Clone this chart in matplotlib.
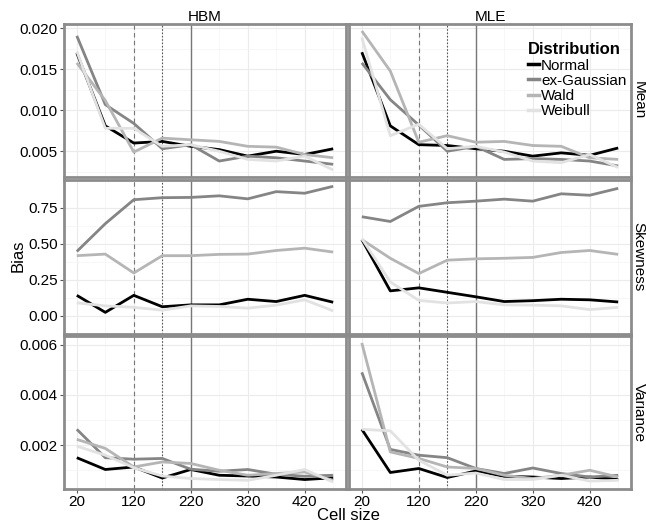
import matplotlib
matplotlib.use('Agg')
import matplotlib.pyplot as plt
from matplotlib.lines import Line2D

plt.rcParams['font.family'] = ['Liberation Sans', 'DejaVu Sans']

############## data
cell_size = [20, 70, 120, 170, 220, 270, 320, 370, 420, 470]
dists = ['Normal', 'ex-Gaussian', 'Wald', 'Weibull']
colors = ['#000000', '#858585', '#b5b5b5', '#e2e2e2']
methods = ['HBM', 'MLE']
stats = ['Mean', 'Skewness', 'Variance']

# Mean
hbm_mean = {
    'Normal':      [0.0170, 0.0081, 0.0060, 0.0062, 0.0056, 0.0052, 0.0044, 0.0050, 0.0046, 0.0053],
    'ex-Gaussian': [0.0191, 0.0107, 0.0084, 0.0053, 0.0058, 0.0038, 0.0044, 0.0042, 0.0038, 0.0034],
    'Wald':        [0.0158, 0.0112, 0.0049, 0.0066, 0.0064, 0.0062, 0.0056, 0.0055, 0.0046, 0.0042],
    'Weibull':     [0.0172, 0.0078, 0.0078, 0.0056, 0.0058, 0.0050, 0.0040, 0.0038, 0.0044, 0.0027],
}
mle_mean = {
    'Normal':      [0.0171, 0.0081, 0.0058, 0.0057, 0.0053, 0.0050, 0.0044, 0.0048, 0.0045, 0.0054],
    'ex-Gaussian': [0.0158, 0.0113, 0.0082, 0.0050, 0.0056, 0.0040, 0.0041, 0.0040, 0.0038, 0.0032],
    'Wald':        [0.0197, 0.0148, 0.0061, 0.0069, 0.0061, 0.0062, 0.0057, 0.0056, 0.0042, 0.0040],
    'Weibull':     [0.0189, 0.0069, 0.0083, 0.0053, 0.0056, 0.0049, 0.0038, 0.0036, 0.0046, 0.0030],
}
# Skewness
hbm_skew = {
    'Normal':      [0.143, 0.025, 0.143, 0.064, 0.077, 0.077, 0.116, 0.100, 0.143, 0.095],
    'ex-Gaussian': [0.447, 0.640, 0.806, 0.820, 0.822, 0.833, 0.812, 0.862, 0.851, 0.899],
    'Wald':        [0.418, 0.429, 0.298, 0.418, 0.418, 0.427, 0.429, 0.454, 0.470, 0.443],
    'Weibull':     [0.091, 0.070, 0.060, 0.040, 0.070, 0.066, 0.054, 0.075, 0.112, 0.035],
}
mle_skew = {
    'Normal':      [0.530, 0.174, 0.195, 0.164, 0.133, 0.100, 0.106, 0.116, 0.112, 0.097],
    'ex-Gaussian': [0.688, 0.655, 0.760, 0.785, 0.796, 0.810, 0.796, 0.847, 0.837, 0.885],
    'Wald':        [0.530, 0.400, 0.294, 0.387, 0.396, 0.400, 0.406, 0.440, 0.454, 0.427],
    'Weibull':     [0.537, 0.236, 0.108, 0.090, 0.100, 0.077, 0.075, 0.070, 0.044, 0.060],
}
# Variance
hbm_var = {
    'Normal':      [0.00150, 0.00103, 0.00113, 0.00069, 0.00103, 0.00080, 0.00077, 0.00073, 0.00063, 0.00070],
    'ex-Gaussian': [0.00263, 0.00150, 0.00144, 0.00147, 0.00104, 0.00096, 0.00103, 0.00084, 0.00076, 0.00080],
    'Wald':        [0.00223, 0.00187, 0.00113, 0.00133, 0.00127, 0.00100, 0.00080, 0.00087, 0.00093, 0.00060],
    'Weibull':     [0.00196, 0.00160, 0.00110, 0.00077, 0.00067, 0.00063, 0.00060, 0.00080, 0.00103, 0.00053],
}
mle_var = {
    'Normal':      [0.00263, 0.00091, 0.00107, 0.00071, 0.00097, 0.00076, 0.00073, 0.00067, 0.00073, 0.00063],
    'ex-Gaussian': [0.00490, 0.00183, 0.00160, 0.00150, 0.00107, 0.00087, 0.00109, 0.00087, 0.00073, 0.00080],
    'Wald':        [0.00607, 0.00173, 0.00147, 0.00113, 0.00107, 0.00080, 0.00067, 0.00080, 0.00100, 0.00073],
    'Weibull':     [0.00263, 0.00257, 0.00140, 0.00080, 0.00089, 0.00063, 0.00063, 0.00080, 0.00057, 0.00060],
}
panels = [[hbm_mean, mle_mean], [hbm_skew, mle_skew], [hbm_var, mle_var]]

xticks = [20, 120, 220, 320, 420]
yticks = [[0.005, 0.010, 0.015, 0.020], [0.00, 0.25, 0.50, 0.75], [0.002, 0.004, 0.006]]
yfmt = ['%.3f', '%.2f', '%.3f']
######################

W, H = 646., 528.
fig = plt.figure(figsize=(W / 100, H / 100), dpi=100)
col_left = [64, 349]
col_w = 282
row_top = [24, 180, 336]
row_h = [153, 154, 153]

border = '#8c8c8c'
for r in range(3):
    # shared y range per row, with 5% padding
    allv = [v for p in panels[r] for d in dists for v in p[d]]
    lo, hi = min(allv), max(allv)
    pad = 0.05 * (hi - lo)
    for c in range(2):
        ax = fig.add_axes([col_left[c] / W, 1 - (row_top[r] + row_h[r]) / H, col_w / W, row_h[r] / H])
        data = panels[r][c]
        ax.set_xlim(20 - 22.5, 470 + 22.5)
        ax.set_ylim(lo - pad, hi + pad)
        ax.set_xticks(xticks)
        ax.set_xticks([70, 170, 270, 370, 470], minor=True)
        ax.set_yticks(yticks[r])
        mids = [(a + b) / 2. for a, b in zip(yticks[r][:-1], yticks[r][1:])]
        ax.set_yticks([yticks[r][0] - (yticks[r][1] - yticks[r][0]) / 2.] + mids, minor=True)
        ax.grid(True, which='major', color='#ebebeb', lw=0.8)
        ax.grid(True, which='minor', color='#f4f4f4', lw=0.5)
        ax.set_axisbelow(True)
        ax.axvline(120, color='#777777', lw=0.8, ls=(0, (4, 3)))
        ax.axvline(170, color='#555555', lw=0.8, ls=(0, (1.5, 1.5)))
        ax.axvline(220, color='#777777', lw=1.0)
        for d, col in zip(dists, colors):
            ax.plot(cell_size, data[d], color=col, lw=2.0, solid_capstyle='butt')
        for s in ax.spines.values():
            s.set_color(border)
            s.set_linewidth(2.0)
        ax.tick_params(which='minor', length=0)
        ax.tick_params(which='major', length=3, color='#555555', labelsize=11, pad=1.5)
        if c == 0:
            ax.set_yticklabels([yfmt[r] % v for v in yticks[r]])
        else:
            ax.tick_params(axis='y', length=0, labelleft=False)
        if r < 2:
            ax.tick_params(axis='x', length=0, labelbottom=False)
        if r == 0:
            ax.set_title(methods[c], fontsize=11, pad=1)
        if c == 1:
            ax.text(1.003, 0.5, stats[r], transform=ax.transAxes, rotation=-90,
                    va='center', ha='left', fontsize=11)
        if r == 0 and c == 1:
            handles = [Line2D([], [], color=col, lw=2.5) for col in colors]
            leg = ax.legend(handles, dists, loc='upper right', bbox_to_anchor=(0.995, 0.90),
                            frameon=False, fontsize=11, title='Distribution',
                            handlelength=0.7, handletextpad=0.15, labelspacing=0.08,
                            borderpad=0.2, borderaxespad=0)
            leg.get_title().set_fontweight('bold')
            leg.get_title().set_fontsize(12)
            leg._legend_box.align = 'left'

fig.text(18 / W, 1 - 256 / H, 'Bias', rotation=90, va='center', ha='center', fontsize=12)
fig.text(348 / W, 1 - 516 / H, 'Cell size', va='center', ha='center', fontsize=12)

plt.savefig('out.png', dpi=100)
